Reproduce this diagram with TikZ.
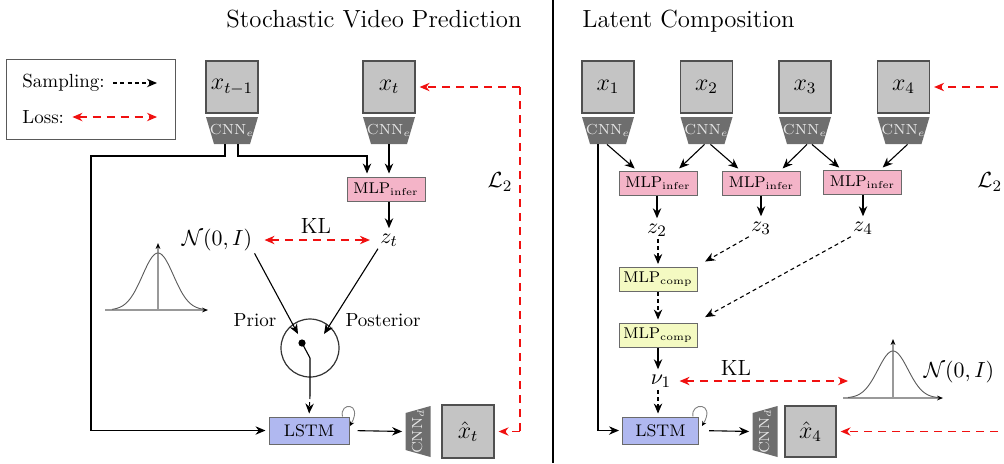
\documentclass[tikz,border=0pt]{standalone}
\usetikzlibrary{arrows.meta,calc}
\definecolor{boxfill}{HTML}{C4C4C4}
\definecolor{boxdraw}{HTML}{505050}
\definecolor{cnnfill}{HTML}{6E6E6E}
\definecolor{cnntext}{HTML}{E6E6E6}
\definecolor{pinkfill}{HTML}{F4B4C8}
\definecolor{yelfill}{HTML}{F4FAC2}
\definecolor{lstmfill}{HTML}{B0B8F0}
\definecolor{nodedraw}{HTML}{6A6A6A}
\definecolor{lossred}{HTML}{F01010}
\newcommand\cnnenc[2]{%
  \fill[cnnfill] ({#2-26},117) -- ({#2+26},117) -- ({#2+18},144) -- ({#2-18},144) -- cycle;
  \node[cnnlab] (#1) at (#2,130.5) {CNN$_e$};}
\newcommand\cnndec[2]{%
  \fill[cnnfill] ({#2-12.5},413) -- ({#2-12.5},450) -- ({#2+12.5},457) -- ({#2+12.5},406) -- cycle;
  \node[inner sep=0, minimum width=12.5pt, minimum height=25pt] (#1) at (#2,431.5) {};
  \node[cnnlab, rotate=90, minimum width=0pt, minimum height=0pt] at (#1) {CNN$_d$};}
\begin{document}
\begin{tikzpicture}[x=0.5pt,y=-0.5pt,
  titlefont/.style={font=\fontsize{12.4}{15}\selectfont, inner sep=0},
  lab/.style={font=\fontsize{9.5}{11}\selectfont, inner sep=1pt},
  mathlab/.style={font=\fontsize{11}{13}\selectfont, inner sep=1pt},
  imgbox/.style={draw=boxdraw, fill=boxfill, line width=0.6pt, minimum width=26pt, minimum height=26pt, inner sep=0, font=\fontsize{11.5}{13}\selectfont},
  cnnlab/.style={inner sep=0, minimum width=18pt, minimum height=13.5pt, text=cnntext, font=\fontsize{7.3}{8.5}\selectfont},
  mlpi/.style={draw=nodedraw, fill=pinkfill, line width=0.5pt, minimum width=39pt, minimum height=12pt, inner sep=0, font=\fontsize{7.8}{9}\selectfont},
  mlpc/.style={mlpi, fill=yelfill},
  lstmbox/.style={draw=nodedraw, fill=lstmfill, line width=0.5pt, minimum width=40pt, minimum height=13.5pt, inner sep=0, font=\fontsize{8.4}{10}\selectfont},
  conn/.style={line width=0.55pt, draw=black},
  arr/.style={conn, -{Stealth[length=5pt,width=4.2pt]}, shorten >=1.5pt},
  samp/.style={arr, dash pattern=on 2pt off 1.6pt},
  lossarr/.style={draw=lossred, line width=0.6pt, dash pattern=on 4pt off 3pt, {Stealth[length=5pt,width=4.2pt]}-{Stealth[length=5pt,width=4.2pt]}},
  lossone/.style={draw=lossred, line width=0.6pt, dash pattern=on 4pt off 3pt, -{Stealth[length=5pt,width=4.2pt]}},
  gcurve/.style={draw=black!65, line width=0.45pt},
  gaxis/.style={draw=black!40, line width=0.6pt, -{Stealth[length=3pt,width=2.4pt,black]}},
  loopy/.style={draw=black!50, line width=0.45pt, -{Stealth[length=2.4pt,width=2.2pt,black]}}
]
\useasboundingbox (0,0) rectangle (1004,463);
\clip (0,0) rectangle (1004,463);

% divider
\draw[line width=1pt] (553,0) -- (553,463);

%%%%%%%%%%%%%%%% LEFT PANEL %%%%%%%%%%%%%%%%
\node[titlefont, anchor=base east] (t1) at (522,27) {Stochastic Video Prediction};

% legend
\node[draw=black!65, line width=0.5pt, minimum width=84.5pt, minimum height=40pt, inner sep=0] (leg) at (90.75,99) {};
\node[lab, anchor=west] (ls) at (20,83) {Sampling:};
\coordinate (ls2) at (157,83);
\draw[samp, shorten >=0pt, shorten <=3pt] (ls.east) -- (ls2);
\node[lab, anchor=west] (ll) at (20,117) {Loss:};
\coordinate (ll2) at (157,117);
\draw[lossarr, shorten <=3pt] (ll.east) -- (ll2);

% inputs
\node[imgbox] (xa) at (232,87) {$x_{t-1}$};
\node[imgbox] (xb) at (389,87) {$x_t$};
\cnnenc{cea}{232}
\cnnenc{ceb}{389}

\node[mlpi] (mlpa) at (386,189) {MLP$_{\mathrm{infer}}$};
\node[mathlab] (zt) at (389,240) {$z_t$};
\node[mathlab, font=\fontsize{10.5}{12}\selectfont] (Nl) at (217,240) {$\mathcal{N}(0,I)$};
\node[mathlab] (kll) at (316,226) {KL};

\coordinate (lc) at (91,156);
\coordinate (rc) at (367,156);
\node[lstmbox] (lstma) at (309,430.5) {LSTM};

\draw[arr] ([xshift=-3.5pt]cea.south) |- (lc) |- (lstma.west);
\draw[arr] ([xshift=3pt]cea.south) |- (rc) -- (rc |- mlpa.north);
\draw[arr] (ceb.south) -- (ceb.south |- mlpa.north);
\draw[arr] (zt |- mlpa.south) -- (zt.north);
\draw[lossarr, shorten <=5pt, shorten >=4pt] (Nl.east) -- (zt.west);

% gaussian left
\draw[gaxis] (105,310) -- (208,310);
\draw[gaxis] (158,310) -- (158,243);
\draw[gcurve] plot[domain=-46:46, samples=80, smooth] ({158+\x},{310-57*exp(-0.5*(\x/15.5)*(\x/15.5))});

% switch
\node[circle, draw=black!80, line width=0.6pt, minimum size=29pt, inner sep=0] (sw) at (310,348) {};
\node[circle, fill=black, inner sep=0, minimum size=3.6pt] (dot) at (302,343) {};
\coordinate (pin) at (298,334);
\coordinate (qin) at (324,334);
\draw[arr, shorten >=0pt] (Nl.south east) -- (pin);
\draw[arr, shorten >=0pt] (zt.south west) -- (qin);
\node[lab] (prior) at (255,320) {Prior};
\node[lab] (post) at (383,320) {Posterior};
\coordinate (sw1) at (310,358);
\coordinate (sw2) at (310,395);
\draw[conn] (dot.center) -- (sw1) -- (sw2);
\draw[samp] (sw2) -- (lstma.north);

% loop
\draw[loopy] ([xshift=-3.5pt]lstma.north east) .. controls (339,402) and (363,402) .. (350,426);

\cnndec{cda}{418}
\draw[arr, shorten <=4pt] (lstma.east) -- (cda.west);
\node[imgbox, minimum height=26.5pt] (xha) at (468,431.5) {$\hat{x}_t$};

% L2 left
\coordinate (l2x) at (520,0);
\draw[lossone, shorten >=2pt] (xb.east -| l2x) -- (xb.east);
\draw[draw=lossred, line width=0.6pt, dash pattern=on 4pt off 3pt] (xb.east -| l2x) -- (xha.east -| l2x);
\draw[lossone, shorten >=2pt] (xha.east -| l2x) -- (xha.east);
\node[mathlab] (L2a) at (500,182) {$\mathcal{L}_2$};

%%%%%%%%%%%%%%%% RIGHT PANEL %%%%%%%%%%%%%%%%
\node[titlefont, anchor=base west] (t2) at (582,27) {Latent Composition};

\node[imgbox] (x1) at (608,87) {$x_1$};
\node[imgbox] (x2) at (706.5,87) {$x_2$};
\node[imgbox] (x3) at (805,87) {$x_3$};
\node[imgbox] (x4) at (903.5,87) {$x_4$};
\cnnenc{ce1}{608}
\cnnenc{ce2}{706.5}
\cnnenc{ce3}{805}
\cnnenc{ce4}{903.5}

\node[mlpi] (m1) at (658,183) {MLP$_{\mathrm{infer}}$};
\node[mlpi] (m2) at (761.5,183) {MLP$_{\mathrm{infer}}$};
\node[mlpi] (m3) at (862.5,182) {MLP$_{\mathrm{infer}}$};

\draw[arr] ([xshift=-0.5pt]ce1.south) -- ([xshift=-10.5pt]m1.north);
\draw[arr] ([xshift=-1pt]ce2.south) -- ([xshift=9.5pt]m1.north);
\draw[arr] ([xshift=2pt]ce2.south) -- ([xshift=-10.5pt]m2.north);
\draw[arr] ([xshift=1pt]ce3.south) -- ([xshift=9.5pt]m2.north);
\draw[arr] ([xshift=3.5pt]ce3.south) -- ([xshift=-10.5pt]m3.north);
\draw[arr] ([xshift=2pt]ce4.south) -- ([xshift=9pt]m3.north);

\node[mathlab] (z2) at (657,230) {$z_2$};
\node[mathlab] (z3) at (761,228) {$z_3$};
\node[mathlab] (z4) at (863,228) {$z_4$};
\draw[arr] (m1.south -| z2) -- (z2.north);
\draw[arr] (m2.south -| z3) -- (z3.north);
\draw[arr] (m3.south -| z4) -- (z4.north);

\node[mlpc] (c1) at (658,279.5) {MLP$_{\mathrm{comp}}$};
\node[mlpc] (c2) at (658,335) {MLP$_{\mathrm{comp}}$};
\draw[samp] (z2.south -| c1) -- (c1.north);
\draw[samp] (z3.south west) -- ([xshift=2.5pt,yshift=2pt]c1.north east);
\draw[samp] (z4.south west) -- ([xshift=2.5pt,yshift=2pt]c2.north east);
\draw[samp] (c1.south) -- (c2.north);

\node[mathlab] (nu) at (661,381) {$\nu_1$};
\draw[arr] (c2.south) -- (c2.south |- nu.north);
\node[lstmbox, minimum width=38pt] (lstmb) at (660.5,430.5) {LSTM};
\draw[samp] (nu.south -| c2) -- (lstmb.north -| c2);

\node[mathlab] (klr) at (736,368) {KL};
\coordinate (gR) at (848,381);
\draw[lossarr, shorten <=3pt] (nu.east) -- (gR);

% gaussian right
\draw[gaxis] (843,398) -- (943,398);
\draw[gaxis] (893,398) -- (893,339);
\draw[gcurve] plot[domain=-45:45, samples=80, smooth] ({893+\x},{398-47*exp(-0.5*(\x/15)*(\x/15))});
\node[mathlab, font=\fontsize{10.5}{12}\selectfont] (Nr) at (959,372) {$\mathcal{N}(0,I)$};

% x1 skip to LSTM
\draw[arr] ([xshift=-5pt]ce1.south) |- (lstmb.west);

\draw[loopy] ([xshift=-3pt]lstmb.north east) .. controls (690,402) and (716,402) .. (702,426);

\cnndec{cdb}{765}
\draw[arr, shorten <=5pt] (lstmb.east) -- (cdb.west);
\node[imgbox, minimum width=25.5pt, minimum height=25.5pt] (xh4) at (810.5,431.5) {$\hat{x}_4$};

% L2 right
\coordinate (r2x) at (1012,0);
\draw[lossone, shorten >=2pt] (x4.east -| r2x) -- (x4.east);
\draw[lossone, shorten >=2pt] (xh4.east -| r2x) -- (xh4.east);
\node[mathlab, anchor=west] (L2b) at (975,182) {$\mathcal{L}_2$};
\end{tikzpicture}
\end{document}
